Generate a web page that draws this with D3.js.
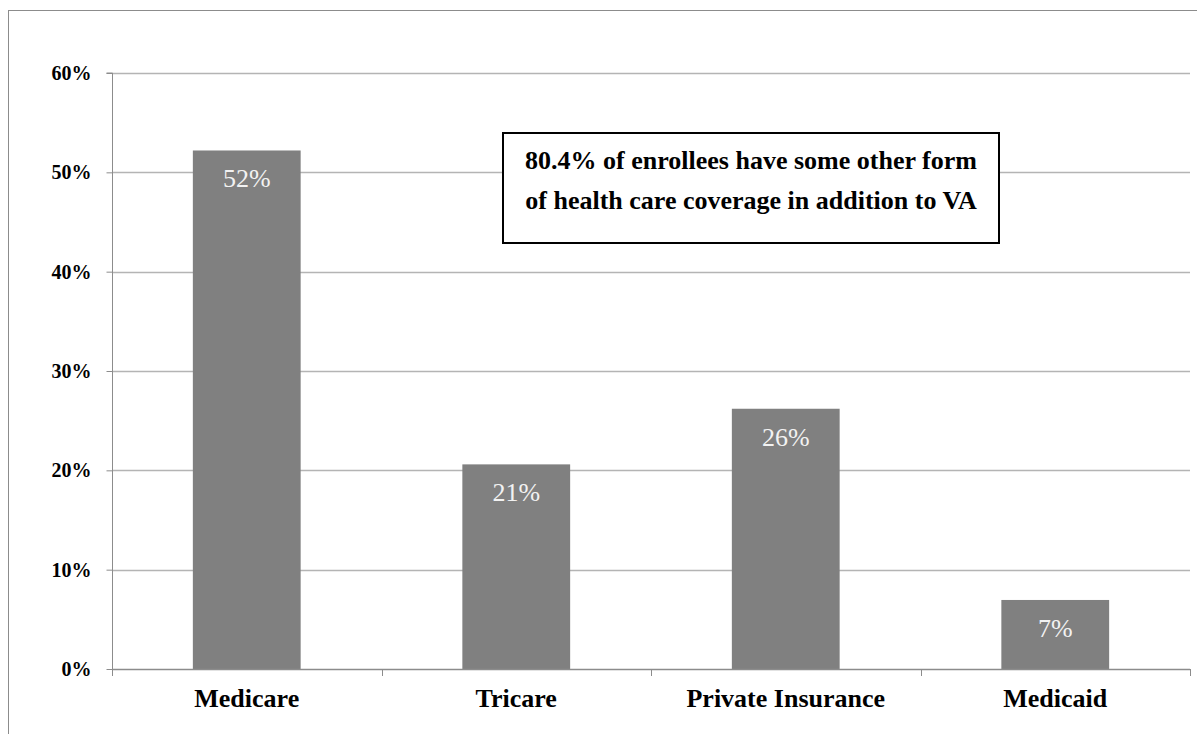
<!DOCTYPE html>
<html>
<head>
<meta charset="utf-8">
<script src="https://cdn.jsdelivr.net/npm/d3@7"></script>
<style>
  html, body { margin: 0; padding: 0; background: #fff; }
  svg { display: block; }
</style>
</head>
<body>
<svg id="chart" width="1197" height="734"></svg>
<script>
const categories = ["Medicare", "Tricare", "Private Insurance", "Medicaid"];
const values = [52.2, 20.6, 26.2, 6.95];
const valueLabels = ["52%", "21%", "26%", "7%"];
const yTicks = [0, 10, 20, 30, 40, 50, 60];
const annotationLines = ["80.4% of enrollees have some other form", "of health care coverage in addition to VA"];

(function () {
const svg = d3.select("#chart");
const serif = "'Liberation Serif', 'Times New Roman', serif";

// outer chart border
svg.append("rect")
  .attr("x", 8.5).attr("y", 10.5)
  .attr("width", 1200).attr("height", 740)
  .attr("fill", "none").attr("stroke", "#8c8c8c").attr("stroke-width", 1);

const pLeft = 112, pRight = 1190, pTop = 73, pBottom = 669;

const x = d3.scaleBand().domain(categories).range([pLeft, pRight])
  .paddingInner(0.6).paddingOuter(0.3);
const y = d3.scaleLinear().domain([0, 60]).range([pBottom, pTop]);

// gridlines
svg.append("g").selectAll("line").data(yTicks.filter(d => d > 0)).join("line")
  .attr("x1", pLeft).attr("x2", pRight)
  .attr("y1", d => Math.round(y(d)) + 0.5).attr("y2", d => Math.round(y(d)) + 0.5)
  .attr("stroke", "#b4b4b4").attr("stroke-width", 1.3);

// y axis
const yAxis = svg.append("g").attr("transform", `translate(${pLeft + 0.5},0)`)
  .call(d3.axisLeft(y).tickValues(yTicks).tickSize(6).tickPadding(15).tickFormat(d => d + "%"));
yAxis.select(".domain").attr("stroke", "#8c8c8c").attr("d", `M-6,${pTop}H0V${pBottom}`);
yAxis.selectAll(".tick line").attr("stroke", "#8c8c8c");
yAxis.selectAll(".tick text")
  .attr("font-family", serif).attr("font-weight", "bold").attr("font-size", 20)
  .attr("fill", "#000");

// bars
svg.append("g").selectAll("rect").data(values).join("rect")
  .attr("x", (d, i) => x(categories[i]))
  .attr("width", x.bandwidth())
  .attr("y", d => y(d))
  .attr("height", d => y(0) - y(d))
  .attr("fill", "#808080");

// value labels
svg.append("g").selectAll("text").data(values).join("text")
  .attr("x", (d, i) => x(categories[i]) + x.bandwidth() / 2)
  .attr("y", d => y(d) + 37)
  .attr("text-anchor", "middle")
  .attr("font-family", serif).attr("font-size", 26)
  .attr("fill", "#f2f2f2")
  .text((d, i) => valueLabels[i]);

// x axis
const step = x.step();
const boundaries = d3.range(categories.length + 1).map(i => pLeft + i * step);
svg.append("line")
  .attr("x1", pLeft).attr("x2", pRight)
  .attr("y1", pBottom + 0.5).attr("y2", pBottom + 0.5)
  .attr("stroke", "#8c8c8c").attr("stroke-width", 1.3);
svg.append("g").selectAll("line").data(boundaries).join("line")
  .attr("x1", d => Math.round(d) + 0.5).attr("x2", d => Math.round(d) + 0.5)
  .attr("y1", pBottom).attr("y2", pBottom + 7)
  .attr("stroke", "#8c8c8c");
svg.append("g").selectAll("text").data(categories).join("text")
  .attr("x", d => x(d) + x.bandwidth() / 2)
  .attr("y", 707)
  .attr("text-anchor", "middle")
  .attr("font-family", serif).attr("font-weight", "bold").attr("font-size", 26)
  .attr("fill", "#000")
  .text(d => d);

// annotation box
const box = svg.append("g");
box.append("rect")
  .attr("x", 503).attr("y", 133).attr("width", 496).attr("height", 110)
  .attr("fill", "#fff").attr("stroke", "#000").attr("stroke-width", 2);
box.selectAll("text").data(annotationLines).join("text")
  .attr("x", 751).attr("y", (d, i) => 169 + i * 40)
  .attr("text-anchor", "middle")
  .attr("font-family", serif).attr("font-weight", "bold").attr("font-size", 26)
  .attr("fill", "#000")
  .text(d => d);
})();
</script>
</body>
</html>
